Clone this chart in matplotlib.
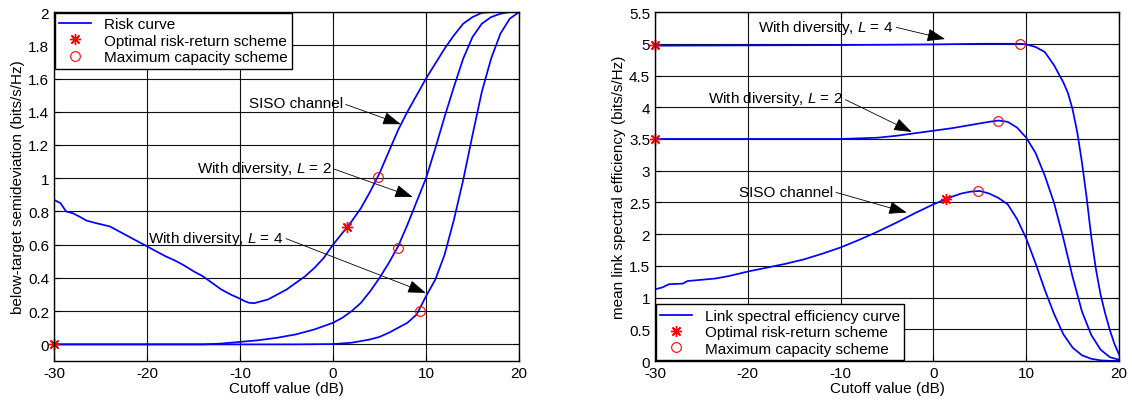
import matplotlib
matplotlib.use('Agg')
import matplotlib.pyplot as plt
from matplotlib.ticker import FuncFormatter, MultipleLocator

plt.rcParams['font.family'] = ['Liberation Sans', 'DejaVu Sans']
plt.rcParams['font.size'] = 11
plt.rcParams['axes.unicode_minus'] = False
plt.rcParams['mathtext.fontset'] = 'custom'
plt.rcParams['mathtext.it'] = 'Liberation Sans:italic'
plt.rcParams['mathtext.rm'] = 'Liberation Sans'

# ---- left panel: below-target semideviation ----
siso_risk_x = [-30, -29.3, -28.7, -28, -27.3, -26.5, -25.5, -24, -23, -22, -21, -20,
               -19, -18, -17, -16, -15, -14, -13, -12, -11, -10, -9.5, -9, -8.5, -8,
               -7, -6, -5, -4, -3, -2, -1, 0, 1, 2, 3, 4, 5, 6, 7, 8, 9, 10, 11, 12,
               13, 14, 15, 16, 17, 20]
siso_risk_y = [0.87, 0.85, 0.80, 0.79, 0.77, 0.745, 0.73, 0.71, 0.68, 0.65, 0.62, 0.59,
               0.56, 0.53, 0.505, 0.475, 0.44, 0.41, 0.37, 0.33, 0.30, 0.275, 0.26, 0.25,
               0.248, 0.255, 0.27, 0.30, 0.33, 0.37, 0.41, 0.46, 0.52, 0.60, 0.67, 0.74,
               0.82, 0.92, 1.03, 1.16, 1.29, 1.40, 1.50, 1.60, 1.69, 1.78, 1.86, 1.93,
               1.97, 1.995, 2.0, 2.0]

div2_risk_x = [-30, -14, -12, -10, -8, -6, -4, -2, -1, 0, 1, 2, 3, 4, 5, 6, 7, 8, 9,
               10, 11, 12, 13, 14, 15, 16, 17, 18, 19, 20]
div2_risk_y = [0, 0.0, 0.005, 0.015, 0.025, 0.04, 0.06, 0.09, 0.11, 0.13, 0.16, 0.20,
               0.25, 0.32, 0.40, 0.49, 0.59, 0.72, 0.86, 1.0, 1.18, 1.37, 1.55, 1.72,
               1.85, 1.93, 1.97, 1.99, 2.0, 2.0]

div4_risk_x = [-30, -4, 0, 2, 3, 4, 5, 6, 7, 8, 9, 10, 11, 12, 13, 14, 15, 16, 17, 18,
               19, 20]
div4_risk_y = [0, 0, 0.002, 0.01, 0.02, 0.03, 0.045, 0.07, 0.10, 0.13, 0.18, 0.29,
               0.39, 0.54, 0.75, 0.99, 1.26, 1.52, 1.72, 1.87, 1.96, 2.0]

risk_star_x = [-30, 1.47]
risk_star_y = [0, 0.707]
risk_circ_x = [4.8, 6.95, 9.35]
risk_circ_y = [1.01, 0.58, 0.2]

# ---- right panel: mean link spectral efficiency ----
siso_eff_x = [-30, -29.2, -28.5, -27, -26.5, -25, -23.5, -22, -20, -18, -16, -14, -12,
              -10, -8, -6, -4, -2, 0, 1, 2, 3, 4, 5, 6, 7, 8, 9, 10, 11, 12, 13, 14,
              15, 16, 17, 18, 19, 20]
siso_eff_y = [1.13, 1.16, 1.21, 1.22, 1.26, 1.28, 1.30, 1.34, 1.41, 1.47, 1.53, 1.60,
              1.69, 1.79, 1.91, 2.04, 2.18, 2.33, 2.47, 2.53, 2.59, 2.64, 2.67, 2.68,
              2.64, 2.57, 2.47, 2.24, 1.93, 1.54, 1.12, 0.74, 0.42, 0.21, 0.09, 0.035,
              0.01, 0.003, 0.0]

div2_eff_x = [-30, -10, -8, -6, -4, -2, 0, 2, 4, 6, 7, 8, 9, 10, 11, 12, 13, 14, 15,
              16, 17, 18, 19, 20]
div2_eff_y = [3.50, 3.50, 3.51, 3.52, 3.55, 3.59, 3.63, 3.67, 3.72, 3.77, 3.79, 3.77,
              3.68, 3.52, 3.28, 2.92, 2.49, 1.93, 1.32, 0.78, 0.41, 0.18, 0.06, 0.02]

div4_eff_x = [-30, -10, 0, 5, 8, 9.3, 10, 11, 12, 13, 14, 14.5, 15, 15.5, 16, 16.5, 17,
              17.5, 18, 18.5, 19, 19.5, 20]
div4_eff_y = [4.97, 4.98, 4.99, 5.0, 5.0, 5.0, 4.99, 4.95, 4.87, 4.66, 4.39, 4.22, 3.96,
              3.60, 3.13, 2.58, 1.96, 1.45, 1.05, 0.75, 0.49, 0.27, 0.1]

eff_star_x = [-30, -30, 1.4]
eff_star_y = [4.98, 3.5, 2.55]
eff_circ_x = [9.33, 7.0, 4.84]
eff_circ_y = [5.0, 3.79, 2.68]

fig = plt.figure(figsize=(11.32, 4.02), dpi=100)
ax1 = fig.add_axes([0.0477, 0.0995, 0.4108, 0.868])
ax2 = fig.add_axes([0.5786, 0.0995, 0.410, 0.868])

fmt = FuncFormatter(lambda v, p: '%g' % round(v, 2))
star = (8, 2, 0)  # asterisk like MATLAB '*'
LW = 1.25


def style_axes(ax):
    ax.grid(True, color='#111111', linewidth=0.8, linestyle='-')
    ax.set_axisbelow(True)
    ax.tick_params(direction='in', top=True, right=True, length=4, width=0.8)
    ax.xaxis.set_major_locator(MultipleLocator(10))
    ax.xaxis.set_major_formatter(fmt)
    ax.yaxis.set_major_formatter(fmt)
    ax.set_xlim(-30, 20)
    ax.set_xlabel('Cutoff value (dB)', labelpad=1)
    for s in ax.spines.values():
        s.set_linewidth(1.0)


def add_note(ax, text, tip, end):
    ax.annotate(text, xy=tip, xytext=end, ha='right', va='center',
                arrowprops=dict(arrowstyle='-|>,head_length=0.7,head_width=0.25',
                                color='k', lw=0.6, mutation_scale=16,
                                shrinkA=0, shrinkB=0, relpos=(1.0, 0.5)))


# left
ln, = ax1.plot(siso_risk_x, siso_risk_y, color='#0000ff', lw=LW)
ax1.plot(div2_risk_x, div2_risk_y, color='#0000ff', lw=LW)
ax1.plot(div4_risk_x, div4_risk_y, color='#0000ff', lw=LW)
st = ax1.plot(risk_star_x, risk_star_y, marker=star, color='red', ms=8, mew=1.0,
              linestyle='none', clip_on=False)[0]
ci = ax1.plot(risk_circ_x, risk_circ_y, 'o', mfc='none', mec='red', ms=7, mew=0.8,
              linestyle='none')[0]
style_axes(ax1)
ax1.set_ylim(-0.1, 2)
ax1.yaxis.set_major_locator(MultipleLocator(0.2))
ax1.set_ylabel('below-target semideviation (bits/s/Hz)', labelpad=2)
ax1.legend([ln, st, ci], ['Risk curve', 'Optimal risk-return scheme',
                          'Maximum capacity scheme'],
           loc='upper left', borderaxespad=0.05, fancybox=False, edgecolor='k',
           framealpha=1, handlelength=2.1, labelspacing=0.15, borderpad=0.3)
add_note(ax1, 'SISO channel', (7.28, 1.325), (1.07, 1.45))
add_note(ax1, 'With diversity, $L$ = 2', (8.57, 0.887), (-0.14, 1.06))
add_note(ax1, 'With diversity, $L$ = 4', (9.97, 0.31), (-5.35, 0.643))

# right
ln2, = ax2.plot(siso_eff_x, siso_eff_y, color='#0000ff', lw=LW)
ax2.plot(div2_eff_x, div2_eff_y, color='#0000ff', lw=LW)
ax2.plot(div4_eff_x, div4_eff_y, color='#0000ff', lw=LW)
st2 = ax2.plot(eff_star_x, eff_star_y, marker=star, color='red', ms=8, mew=1.0,
               linestyle='none', clip_on=False)[0]
ci2 = ax2.plot(eff_circ_x, eff_circ_y, 'o', mfc='none', mec='red', ms=7, mew=0.8,
               linestyle='none')[0]
style_axes(ax2)
ax2.set_ylim(0, 5.5)
ax2.yaxis.set_major_locator(MultipleLocator(0.5))
ax2.set_ylabel('mean link spectral efficiency (bits/s/Hz)', labelpad=2)
ax2.legend([ln2, st2, ci2], ['Link spectral efficiency curve',
                             'Optimal risk-return scheme',
                             'Maximum capacity scheme'],
           loc='lower left', borderaxespad=0.05, fancybox=False, edgecolor='k',
           framealpha=1, handlelength=2.1, labelspacing=0.15, borderpad=0.3)
add_note(ax2, 'With diversity, $L$ = 4', (1.25, 5.075), (-4.32, 5.27))
add_note(ax2, 'With diversity, $L$ = 2', (-2.34, 3.61), (-9.77, 4.14))
add_note(ax2, 'SISO channel', (-2.88, 2.34), (-10.8, 2.67))

fig.savefig('out.png', dpi=100)
